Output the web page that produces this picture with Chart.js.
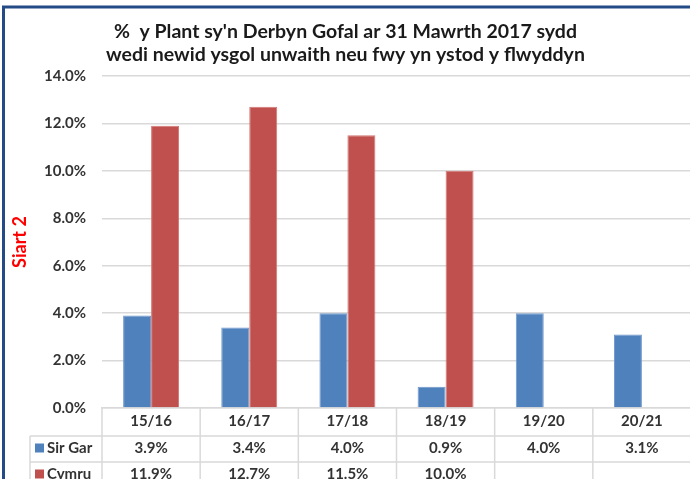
<!DOCTYPE html>
<html>
<head>
<meta charset="utf-8">
<title>Siart 2</title>
<script src="https://cdn.jsdelivr.net/npm/chart.js@4.4.1/dist/chart.umd.min.js"></script>
<style>
  html, body { margin: 0; padding: 0; background: #fff; overflow: hidden; }
  #wrap { width: 700px; height: 479px; }
</style>
</head>
<body>
<div id="wrap"><canvas id="siart" width="700" height="479"></canvas></div>
<script>
// ========================== DATA =============================

const categories = ["15/16", "16/17", "17/18", "18/19", "19/20", "20/21"];
const seriesNames = ["Sir Gar", "Cymru"];
const sirGar = [3.9, 3.4, 4.0, 0.9, 4.0, 3.1];
const cymru = [11.9, 12.7, 11.5, 10.0, null, null];
const yMax = 14;
const yStep = 2;

const titleLines = [
  "%  y Plant sy'n Derbyn Gofal ar 31 Mawrth 2017 sydd",
  "wedi newid ysgol unwaith neu fwy yn ystod y flwyddyn",
];

const BLUE = "#4F81BD";
const RED = "#C0504D";
const GRID = "#d9d9d9";
const TEXT = "#333333";

// ========================== PLUGINS =============================

// white page + the navy frame round the chart (right and bottom are cut off)
const frame = {
  id: "frame",
  beforeDraw(chart) {
    const { ctx, width, height } = chart;
    ctx.save();
    ctx.fillStyle = "#fff";
    ctx.fillRect(0, 0, width, height);
    ctx.strokeStyle = "#244b86";
    ctx.lineWidth = 3;
    ctx.beginPath();
    ctx.moveTo(3.5, height);
    ctx.lineTo(3.5, 7);
    ctx.lineTo(width, 7);
    ctx.stroke();
    ctx.restore();
  },
};

// data table under the x axis
const dataTable = {
  id: "dataTable",
  afterDraw(chart) {
    const { ctx, chartArea: a, scales: { x }, height } = chart;
    const headH = 28;
    const rowH = 26;
    const step = x.getPixelForValue(1) - x.getPixelForValue(0);
    const left = 30;

    const line = (x1, y1, x2, y2) => {
      ctx.beginPath();
      ctx.moveTo(x1, y1);
      ctx.lineTo(x2, y2);
      ctx.stroke();
    };

    ctx.save();
    ctx.strokeStyle = GRID;
    ctx.lineWidth = 1.5;
    for (let r = 0; r < seriesNames.length; r++) {
      const y = a.bottom + headH + r * rowH;
      line(left, y, a.right, y);
    }
    line(left, a.bottom + headH, left, height);
    for (let i = 0; i <= categories.length; i++) {
      const bx = x.getPixelForValue(0) - step / 2 + i * step;
      line(bx, a.bottom, bx, height);
    }

    ctx.font = "bold 15px Lato";
    ctx.textBaseline = "middle";
    chart.data.datasets.forEach((ds, r) => {
      const cy = a.bottom + headH + r * rowH + rowH / 2 - 1;
      ctx.fillStyle = ds.backgroundColor;
      ctx.fillRect(35, cy - 4.5, 9, 9);
      ctx.fillStyle = TEXT;
      ctx.textAlign = "left";
      ctx.fillText(ds.label, 47, cy);
      ctx.textAlign = "center";
      ds.data.forEach((v, i) => {
        if (v === null) return;
        ctx.fillText(v.toFixed(1) + "%", x.getPixelForValue(i), cy);
      });
    });
    ctx.restore();
  },
};

// ========================== CHART =============================

const ctx = document.getElementById("siart").getContext("2d");
new Chart(ctx, {
  type: "bar",
  data: {
    labels: categories,
    datasets: [
      {
        label: seriesNames[0],
        data: sirGar,
        backgroundColor: BLUE,
        borderColor: "#6f97c9",
        borderWidth: 1,
      },
      {
        label: seriesNames[1],
        data: cymru,
        backgroundColor: RED,
        borderColor: "#d27573",
        borderWidth: 1,
      },
    ],
  },
  options: {
    responsive: false,
    animation: false,
    devicePixelRatio: 1,
    layout: { padding: { left: 0, right: 9, top: 0, bottom: 0 } },
    datasets: {
      bar: { categoryPercentage: 0.57, barPercentage: 1.0 },
    },
    plugins: {
      legend: { display: false },
      tooltip: { enabled: false },
      title: {
        display: true,
        text: titleLines,
        color: "#1a1a1a",
        font: { family: "Lato", size: 19.5, weight: "bold", lineHeight: 1.18 },
        padding: { top: 20, bottom: 10 },
      },
    },
    scales: {
      x: {
        afterFit: (s) => { s.height = 71; },
        grid: { display: false, drawTicks: false },
        border: { display: true, color: GRID, width: 1.5 },
        ticks: {
          color: TEXT,
          padding: 4,
          font: { family: "Lato", size: 15, weight: "bold" },
        },
      },
      y: {
        min: 0,
        max: yMax,
        afterFit: (s) => { s.width = 102; },
        grid: { color: GRID, lineWidth: 1.5, drawTicks: false },
        border: { display: false },
        ticks: {
          stepSize: yStep,
          padding: 16,
          color: TEXT,
          font: { family: "Lato", size: 15, weight: "bold" },
          callback: (v) => v.toFixed(1) + "%",
        },
        title: {
          display: true,
          text: "Siart 2",
          color: "#ff0000",
          font: { family: "Lato", size: 18, weight: "bold", lineHeight: 1.2 },
          padding: { top: 9, bottom: 0 },
        },
      },
    },
  },
  plugins: [frame, dataTable],
});
</script>
</body>
</html>
